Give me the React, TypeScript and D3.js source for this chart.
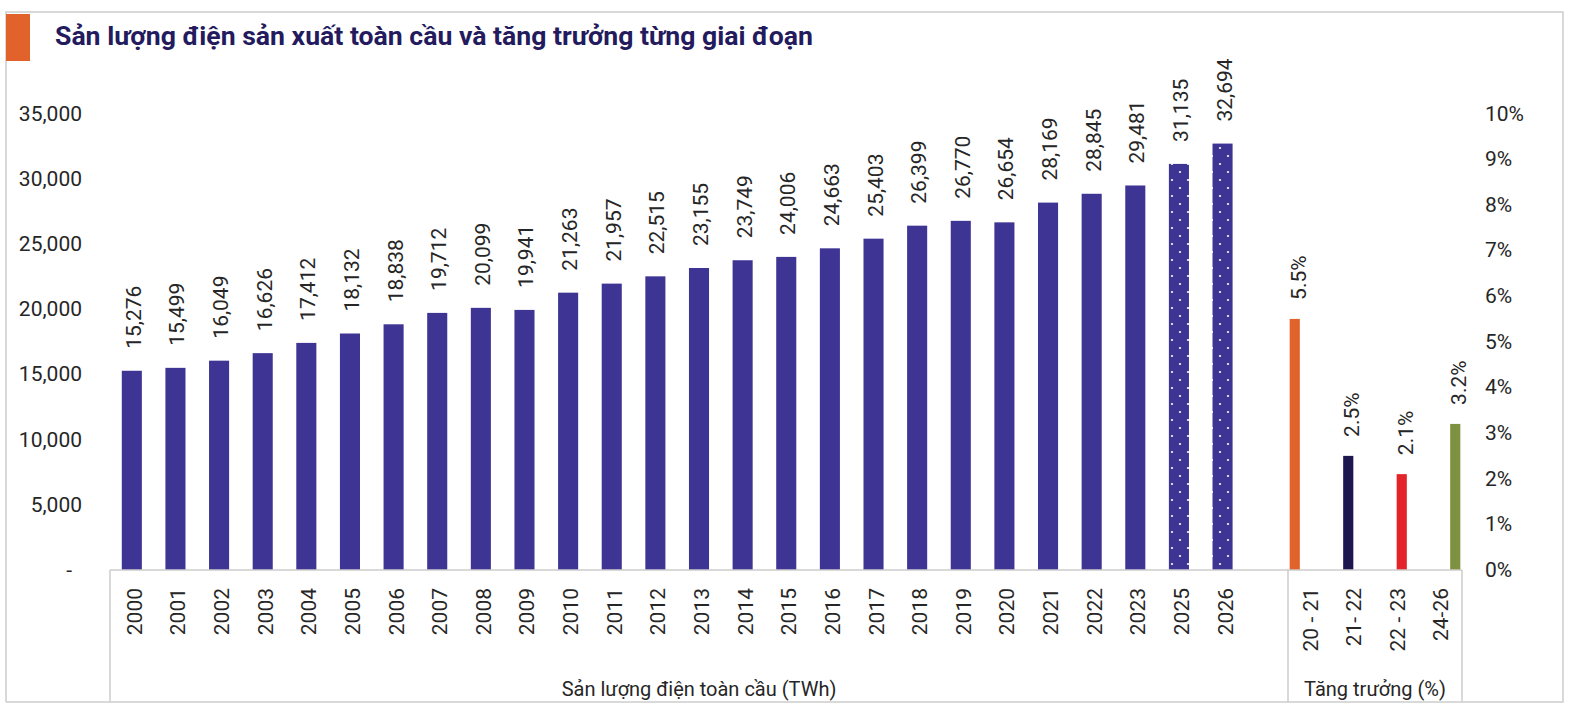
import React from "react";
import * as d3 from "d3";

const years = ["2000","2001","2002","2003","2004","2005","2006","2007","2008","2009","2010","2011","2012","2013","2014","2015","2016","2017","2018","2019","2020","2021","2022","2023","2025","2026"];
const output = [15276,15499,16049,16626,17412,18132,18838,19712,20099,19941,21263,21957,22515,23155,23749,24006,24663,25403,26399,26770,26654,28169,28845,29481,31135,32694];
const projectedYears = ["2025","2026"];
const growthCats = ["20 - 21","21- 22","22 - 23","24-26"];
const growthVals = [5.5, 2.5, 2.1, 3.2];
const growthColors = ["#E2622B","#1E174F","#E3252B","#7E9140"];
const leftTicks = [0,5000,10000,15000,20000,25000,30000,35000];
const rightTicks = [0,1,2,3,4,5,6,7,8,9,10];
const title = "Sản lượng điện sản xuất toàn cầu và tăng trưởng từng giai đoạn";
const mainGroupLabel = "Sản lượng điện toàn cầu (TWh)";
const growthGroupLabel = "Tăng trưởng (%)";

const W = 1575, H = 717;
const FONT = "Roboto, 'Open Sans', sans-serif";
const BAR = "#3D3494";
const GRID = "#cdcdcd";
const TXT = "#262626";

export default function App() {
  const x0 = 110, xDiv = 1288, xEnd = 1462, yZero = 570, yTop = 113.5, yBottom = 702;
  const xMain = d3.scaleBand<string>().domain([...years, "_blank"]).range([x0, xDiv]).paddingInner(0.54).paddingOuter(0.27);
  const xGLabel = d3.scaleBand<string>().domain(growthCats).range([xDiv, xEnd]);
  const xGBar = d3.scaleBand<string>().domain(growthCats).range([1268, 1482]).paddingInner(0.81).paddingOuter(0.405);
  const yL = d3.scaleLinear().domain([0, 35000]).range([yZero, yTop]);
  const yR = d3.scaleLinear().domain([0, 10]).range([yZero, yTop]);
  const fmt = d3.format(",");

  return (
    <svg width={W} height={H} style={{ position: "fixed", left: 0, top: 0, background: "#fff" }} fontFamily={FONT}>
      <defs>
        <pattern id="dots" patternUnits="userSpaceOnUse" width="16" height="16">
          <rect width="16" height="16" fill={BAR} />
          <circle cx="4" cy="4" r="1.1" fill="#fff" />
          <circle cx="12" cy="12" r="1.1" fill="#fff" />
        </pattern>
      </defs>
      <rect x={0} y={0} width={W} height={H} fill="#fff" />
      {/* frame */}
      <path d={`M6,702 V12 H1563 V702 H6`} fill="none" stroke={GRID} strokeWidth={1.5} />
      <rect x={6} y={14} width={24} height={47} fill="#E2622B" />
      <text x={55} y={45} fontSize={25} fontWeight={700} fill="#231B5E" textLength={758} lengthAdjust="spacingAndGlyphs">{title}</text>

      {/* left axis labels */}
      {leftTicks.map(t => (
        <text key={"l" + t} x={t === 0 ? 72 : 82} y={yL(t)} fontSize={21} fill={TXT} textAnchor="end" dominantBaseline="central">
          {t === 0 ? "-" : fmt(t)}
        </text>
      ))}
      {/* right axis labels */}
      {rightTicks.map(t => (
        <text key={"r" + t} x={1485} y={yR(t)} fontSize={21} fill={TXT} textAnchor="start" dominantBaseline="central">
          {t + "%"}
        </text>
      ))}

      {/* main bars */}
      {years.map((yr, i) => {
        const x = xMain(yr)!;
        const bw = xMain.bandwidth();
        const cx = x + bw / 2;
        const top = yL(output[i]);
        return (
          <g key={yr}>
            <rect x={x} y={top} width={bw} height={yZero - top} fill={projectedYears.includes(yr) ? "url(#dots)" : BAR} />
            <text transform={`translate(${cx + 9},${top - 22}) rotate(-90)`} fontSize={21} fill={TXT} textAnchor="start">{fmt(output[i])}</text>
            <text transform={`translate(${cx + 10},588) rotate(-90)`} fontSize={21} fill={TXT} textAnchor="end">{yr}</text>
          </g>
        );
      })}

      {/* growth bars */}
      {growthCats.map((c, i) => {
        const x = xGBar(c)!;
        const bw = xGBar.bandwidth();
        const cx = x + bw / 2;
        const top = yR(growthVals[i]);
        const lc = xGLabel(c)! + xGLabel.bandwidth() / 2;
        return (
          <g key={c}>
            <rect x={x} y={top} width={bw} height={yZero - top} fill={growthColors[i]} />
            <text transform={`translate(${cx + 11},${top - 19}) rotate(-90)`} fontSize={21} fill={TXT} textAnchor="start">{growthVals[i].toFixed(1) + "%"}</text>
            <text transform={`translate(${lc + 8},588) rotate(-90)`} fontSize={21} fill={TXT} textAnchor="end">{c}</text>
          </g>
        );
      })}

      {/* category axis box */}
      <line x1={x0} x2={xEnd} y1={yZero} y2={yZero} stroke={GRID} strokeWidth={1.5} />
      {[x0, xDiv, xEnd].map(x => (
        <line key={"v" + x} x1={x} x2={x} y1={yZero} y2={yBottom} stroke={GRID} strokeWidth={1.5} />
      ))}
      <text x={(x0 + xDiv) / 2} y={696} fontSize={20} fill={TXT} textAnchor="middle">{mainGroupLabel}</text>
      <text x={(xDiv + xEnd) / 2} y={696} fontSize={20} fill={TXT} textAnchor="middle">{growthGroupLabel}</text>
    </svg>
  );
}
